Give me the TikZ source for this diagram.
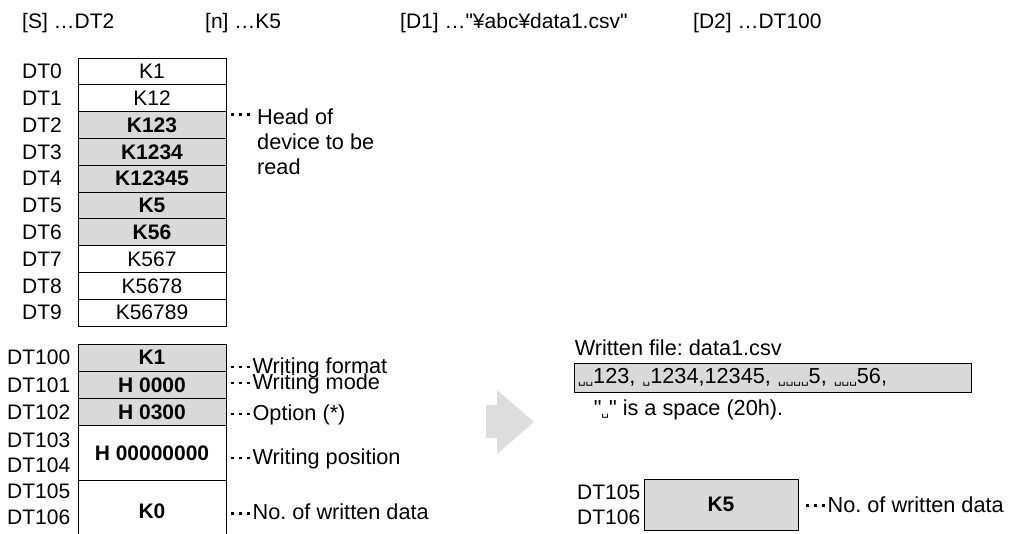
\documentclass[tikz,border=0pt]{standalone}
\usepackage{fontspec}
\setmainfont{Liberation Sans}
\newfontfamily\dejavu{DejaVu Sans}
\usepackage{tikz}
\usetikzlibrary{positioning}
\frenchspacing
\definecolor{cellgray}{RGB}{217,217,217}
\definecolor{arrowgray}{RGB}{221,221,221}
\newcommand{\fsz}{\fontsize{21}{25}\selectfont}
\newcommand{\nsz}{\fontsize{21.7}{25}\selectfont}
\newcommand{\spc}{{\dejavu\fontsize{12}{12}\selectfont ␣}}
\newcommand{\dotsq}{\rule[0.24em]{2.8pt}{2.8pt}}
\newcommand{\ddd}{\mbox{\dotsq\hspace{5pt}\dotsq\hspace{5pt}\dotsq\hspace{3pt}}}

\begin{document}
\begin{tikzpicture}[x=1pt,y=-1pt,
  cell/.style={draw,line width=0.9pt,minimum width=148,minimum height=26.8,inner sep=0,outer sep=0,font=\fsz},
  hcell/.style={cell,fill=cellgray,font=\fsz\bfseries},
  lcell/.style={cell,minimum height=27.3},
  lhcell/.style={hcell,minimum height=27.3},
  lbl/.style={anchor=west,inner sep=0,font=\fsz},
  note/.style={anchor=west,inner sep=0,font=\nsz}]
\useasboundingbox (0,0) rectangle (1018,534);
\clip (0,0) rectangle (1018,534);
\coordinate (lx) at (22,0); \coordinate (lx2) at (7,0);
% operands
\node[lbl] (hs) at (22,23) {[S] …DT2};
\node[lbl] (hn) at (205,23) {[n] …K5};
\node[lbl] (hd1) at (400,23) {[D1] …\textquotedbl¥abc¥data1.csv\textquotedbl};
\node[lbl] (hd2) at (693,23) {[D2] …DT100};
% source area
\node[cell] (c0) at (152,71.4) {K1};
\node[cell,below=0pt of c0] (c1) {K12};
\node[hcell,below=0pt of c1] (c2) {K123};
\node[hcell,below=0pt of c2] (c3) {K1234};
\node[hcell,below=0pt of c3] (c4) {K12345};
\node[hcell,below=0pt of c4] (c5) {K5};
\node[hcell,below=0pt of c5] (c6) {K56};
\node[cell,below=0pt of c6] (c7) {K567};
\node[cell,below=0pt of c7] (c8) {K5678};
\node[cell,below=0pt of c8] (c9) {K56789};
\node[lbl] (l0) at (lx |- c0) {DT0}; \node[lbl] (l1) at (lx |- c1) {DT1};
\node[lbl] (l2) at (lx |- c2) {DT2}; \node[lbl] (l3) at (lx |- c3) {DT3};
\node[lbl] (l4) at (lx |- c4) {DT4}; \node[lbl] (l5) at (lx |- c5) {DT5};
\node[lbl] (l6) at (lx |- c6) {DT6}; \node[lbl] (l7) at (lx |- c7) {DT7};
\node[lbl] (l8) at (lx |- c8) {DT8}; \node[lbl] (l9) at (lx |- c9) {DT9};
\node[note] (headdots) at (231,117) {\ddd};
\node[note,anchor=north west,align=left] (head) at (257,109) {Head of\\device to be\\read};
% control data
\node[lhcell] (d100) at (152,357.65) {K1};
\node[lhcell,below=0pt of d100] (d101) {H 0000};
\node[lhcell,below=0pt of d101] (d102) {H 0300};
\node[lcell,below=0pt of d102,minimum height=54.6,font=\fsz\bfseries] (d103) {H 00000000};
\node[lcell,below=0pt of d103,minimum height=62,font=\fsz\bfseries] (d105) {K0};
\node[lbl] (l100) at (lx2 |- d100) {DT100};
\node[lbl] (l101) at (lx2 |- d101) {DT101};
\node[lbl] (l102) at (lx2 |- d102) {DT102};
\node[lbl,yshift=12.5pt] (l103) at (lx2 |- d103) {DT103};
\node[lbl,yshift=-12.5pt] (l104) at (lx2 |- d103) {DT104};
\node[lbl] (l105) at (7,491) {DT105};
\node[lbl] (l106) at (7,517) {DT106};
\node[note,align=left] (nfmt) at (231,376) {\ddd Writing format\\[-9pt]\ddd Writing mode};
\node[note] (nopt) at (231,415) {\ddd Option (*)};
\node[note] (npos) at (231,459) {\ddd Writing position};
\node[note] (nnum) at (231,512) {\ddd No. of written data};
% result
\fill[arrowgray] (486,405) -- (497,405) -- (497,390) -- (534,422) -- (497,454) -- (497,438) -- (486,438) -- cycle;
\node[draw,line width=0.9pt,fill=cellgray,minimum width=397,minimum height=29,text width=389,align=left,inner sep=4,font=\nsz] (file) at (772.5,377.5) {\spc\spc123, \spc1234,12345, \spc\spc\spc\spc5, \spc\spc\spc56,};
\node[note,anchor=south west,above right=7pt and 1pt of file.north west] (ftitle) {Written file: data1.csv};
\node[note,anchor=north west,below right=7pt and 20pt of file.south west] (fspc) {\textquotedbl\spc\textquotedbl{} is a space (20h).};
\node[hcell,minimum width=154,minimum height=51] (k5) at (721,504.5) {K5};
\node[lbl] (r105) at (577,492) {DT105};
\node[lbl] (r106) at (577,517) {DT106};
\node[note,right=8pt of k5] (rnum) {\ddd No. of written data};
\end{tikzpicture}
\end{document}
